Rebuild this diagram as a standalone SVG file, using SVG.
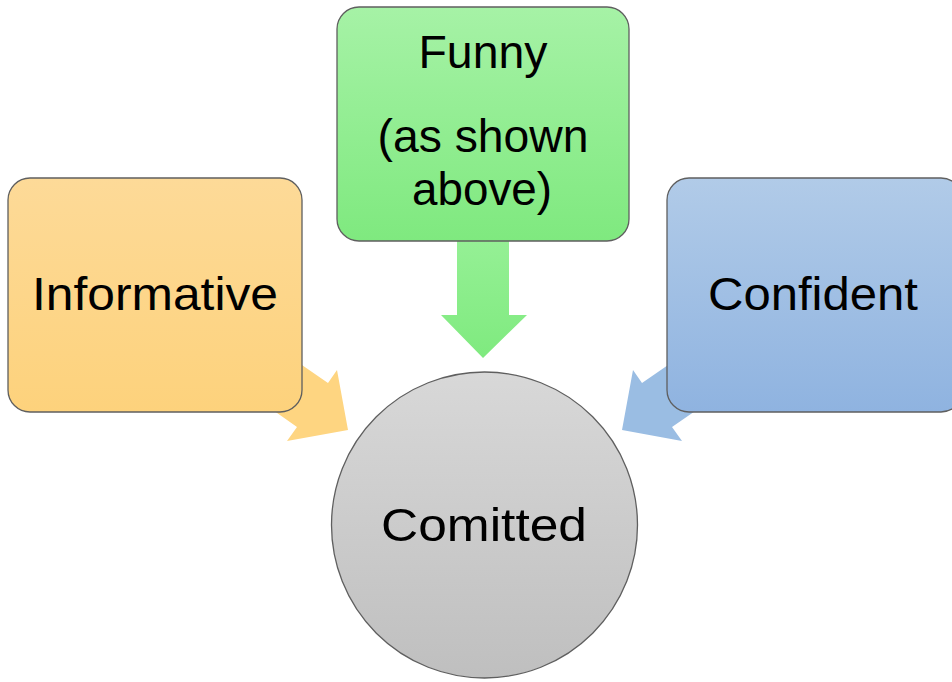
<svg xmlns="http://www.w3.org/2000/svg" width="952" height="682" viewBox="0 0 952 682">
<style>
.box{stroke:#5f5f5f;stroke-width:1.3}
.lbl{font-family:"Liberation Sans","Noto Sans",sans-serif;font-size:46px;fill:#000;text-anchor:middle}
</style>
<defs>
<linearGradient id="gO" x1="0" y1="0" x2="0" y2="1"><stop offset="0" stop-color="#fdda98"/><stop offset="1" stop-color="#fdd27c"/></linearGradient>
<linearGradient id="gG" x1="0" y1="0" x2="0" y2="1"><stop offset="0" stop-color="#a6f2a6"/><stop offset="1" stop-color="#7fe97f"/></linearGradient>
<linearGradient id="gB" x1="0" y1="0" x2="0" y2="1"><stop offset="0" stop-color="#b1cbe8"/><stop offset="1" stop-color="#8fb3e0"/></linearGradient>
<linearGradient id="gC" x1="0" y1="0" x2="0" y2="1"><stop offset="0" stop-color="#d8d8d8"/><stop offset="1" stop-color="#bfbfbf"/></linearGradient>
<linearGradient id="gGA" x1="0" y1="0" x2="0" y2="1"><stop offset="0" stop-color="#95f095"/><stop offset="1" stop-color="#7fea7f"/></linearGradient>
</defs>
<g id="connectors">
<polygon points="270,343 328,383 337,370 348,430 287,441 297,427 240,387" fill="#fed581"/>
<polygon points="700,343 642,383 633,370 622,430 682,441 672,427 730,387" fill="#9abde3"/>
<polygon points="457,240 509,240 509,315 527,315 483,358 441,315 457,315" fill="url(#gGA)"/>
</g>
<g id="informative">
<rect class="box" x="8" y="178" width="294" height="234" rx="22" fill="url(#gO)"/>
<text class="lbl" x="155" y="310" textLength="246" lengthAdjust="spacingAndGlyphs">Informative</text>
</g>
<g id="funny">
<rect class="box" x="337" y="7" width="292" height="234" rx="22" fill="url(#gG)"/>
<text class="lbl" x="483" y="68" textLength="129" lengthAdjust="spacingAndGlyphs">Funny</text>
<text class="lbl" x="483" y="152" textLength="211" lengthAdjust="spacingAndGlyphs">(as shown</text>
<text class="lbl" x="482" y="205" textLength="140" lengthAdjust="spacingAndGlyphs">above)</text>
</g>
<g id="confident">
<rect class="box" x="667" y="178" width="296" height="234" rx="22" fill="url(#gB)"/>
<text class="lbl" x="813" y="310" textLength="210" lengthAdjust="spacingAndGlyphs">Confident</text>
</g>
<g id="comitted">
<circle class="box" cx="484.5" cy="525" r="153" fill="url(#gC)"/>
<text class="lbl" x="484" y="541" textLength="206" lengthAdjust="spacingAndGlyphs">Comitted</text>
</g>
</svg>
